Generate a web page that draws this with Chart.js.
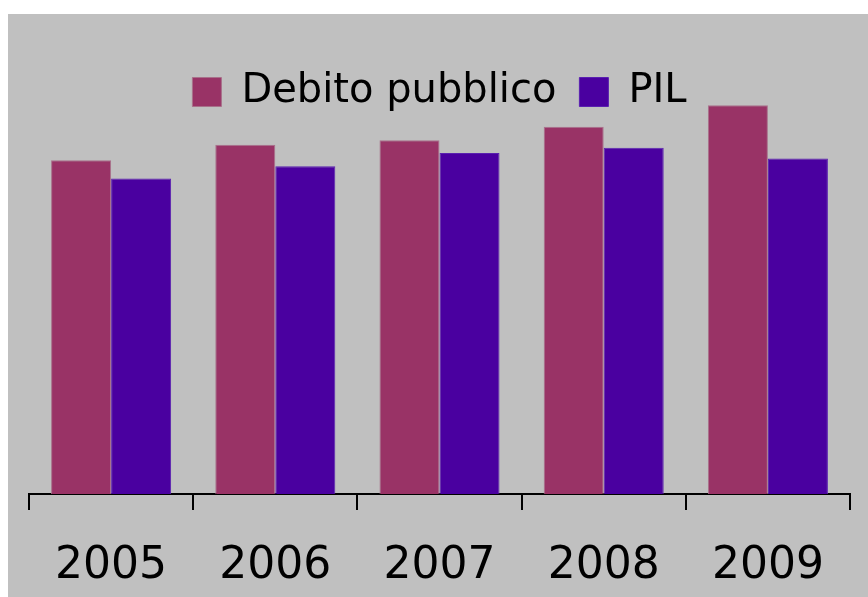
<!DOCTYPE html>
<html>
<head>
<meta charset="utf-8">
<script src="https://cdn.jsdelivr.net/npm/chart.js@4"></script>
<style>
  html, body { margin:0; padding:0; background:#fff; }
  #wrap { position:absolute; left:8px; top:14px; width:860px; height:583px; background:#c0c0c0; }
</style>
</head>
<body>
<div id="wrap"><canvas id="chart" width="860" height="583"></canvas></div>
<script>
/* debito pubblico vs PIL, miliardi di euro */
const ANNI = ['2005', '2006', '2007', '2008', '2009'];
const DEBITO = [1512, 1582, 1602, 1663, 1761];
const PIL = [1429, 1485, 1545, 1568, 1520];

const COLORS = { debito: '#993366', pil: '#4a00a0', text: '#000000' };

Chart.defaults.font.family = "'DejaVu Sans', sans-serif";
Chart.defaults.color = COLORS.text;

new Chart(document.getElementById('chart'), {
  type: 'bar',
  data: {
    labels: ANNI,
    datasets: [
      { label: 'Debito pubblico', data: DEBITO, backgroundColor: COLORS.debito,
        borderColor: '#a8708a', borderWidth: 1, borderSkipped: 'bottom', clip: false },
      { label: 'PIL', data: PIL, backgroundColor: COLORS.pil,
        borderColor: '#5a20b0', borderWidth: 1, borderSkipped: 'bottom', clip: false },
    ]
  },
  options: {
    responsive: false, animation: false,
    layout: { padding: { left: 21, right: 18, top: 35, bottom: 0 } },
    datasets: { bar: { barPercentage: 1, categoryPercentage: 0.731 } },
    plugins: {
      legend: {
        position: 'top', align: 'center',
        labels: { boxWidth: 29, boxHeight: 29, padding: 23, font: { size: 40 } }
      },
      tooltip: { enabled: false }
    },
    scales: {
      x: {
        grid: { offset: true, drawOnChartArea: false, drawTicks: true, tickLength: 16, color: '#000', lineWidth: 2 },
        border: { display: true, color: '#000', width: 2 },
        ticks: { font: { size: 44, lineHeight: 1 }, padding: 35, maxRotation: 0 },
        afterFit: (scale) => { scale.height = 103; }
      },
      y: { display: false, min: 0, max: 1685 }
    }
  }
});
</script>
</body>
</html>
